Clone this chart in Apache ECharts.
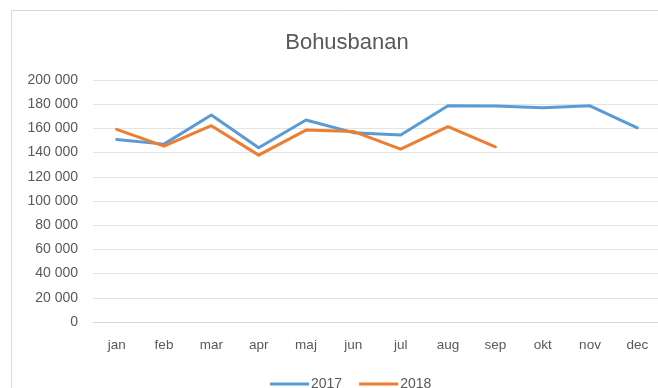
<!DOCTYPE html>
<html>
<head>
<meta charset="utf-8">
<script src="https://cdn.jsdelivr.net/npm/echarts@6/dist/echarts.min.js"></script>
<style>
  html, body { margin: 0; padding: 0; background: #fff; overflow: hidden; }
  #chart { width: 661px; height: 388px; }
</style>
</head>
<body>
<div id="chart"></div>
<script>
// Monthly passenger counts on Bohusbanan
const months = ['jan', 'feb', 'mar', 'apr', 'maj', 'jun', 'jul', 'aug', 'sep', 'okt', 'nov', 'dec'];
const values2017 = [150900, 147000, 171000, 144000, 166900, 156500, 154500, 178700, 178500, 177100, 178700, 160500];
const values2018 = [159200, 145400, 162200, 137900, 158600, 157500, 142900, 161400, 144800];
const seriesNames = ['2017', '2018'];
const yTicks = { min: 0, max: 200000, interval: 20000 };

// Swedish style thousands separator: 200 000
function fmt(v) {
  return String(v).replace(/\B(?=(\d{3})+(?!\d))/g, ' ');
}

const textColor = '#595959';
const font = '"Liberation Sans", Arial, sans-serif';

const chart = echarts.init(document.getElementById('chart'), null, { renderer: 'canvas' });
chart.setOption({
  backgroundColor: '#ffffff',
  animation: false,
  graphic: [{
    type: 'rect',
    shape: { x: 11.5, y: 10.5, width: 700, height: 420 },
    style: { fill: 'none', stroke: '#d9d9d9', lineWidth: 1 },
    silent: true,
    z: -1
  }],
  title: {
    text: 'Bohusbanan',
    left: 342,
    top: 27,
    textAlign: 'center',
    textStyle: { color: textColor, fontFamily: font, fontSize: 22, fontWeight: 'normal' }
  },
  legend: {
    data: seriesNames,
    left: 265,
    top: 372,
    icon: 'rect',
    itemWidth: 39,
    itemHeight: 3,
    itemGap: 17,
    textStyle: { color: textColor, fontFamily: font, fontSize: 14, padding: [0, 0, 0, -3] }
  },
  grid: { left: 93, right: 0, top: 80, bottom: 66, containLabel: false },
  xAxis: {
    type: 'category',
    data: months,
    boundaryGap: true,
    axisLine: { lineStyle: { color: '#d9d9d9', width: 1 } },
    axisTick: { show: false },
    axisLabel: { color: textColor, fontFamily: font, fontSize: 13.5, margin: 16 }
  },
  yAxis: {
    type: 'value',
    min: yTicks.min,
    max: yTicks.max,
    interval: yTicks.interval,
    axisLine: { show: false },
    axisTick: { show: false },
    splitLine: { lineStyle: { color: '#e3e3e3', width: 1 } },
    axisLabel: { color: textColor, fontFamily: font, fontSize: 14, margin: 15, formatter: fmt }
  },
  series: [
    {
      name: seriesNames[0],
      type: 'line',
      data: values2017,
      symbol: 'none',
      lineStyle: { color: '#5B9BD5', width: 3, join: 'round', cap: 'round' },
      itemStyle: { color: '#5B9BD5' }
    },
    {
      name: seriesNames[1],
      type: 'line',
      data: values2018,
      symbol: 'none',
      lineStyle: { color: '#ED7D31', width: 3, join: 'round', cap: 'round' },
      itemStyle: { color: '#ED7D31' }
    }
  ]
});
</script>
</body>
</html>
